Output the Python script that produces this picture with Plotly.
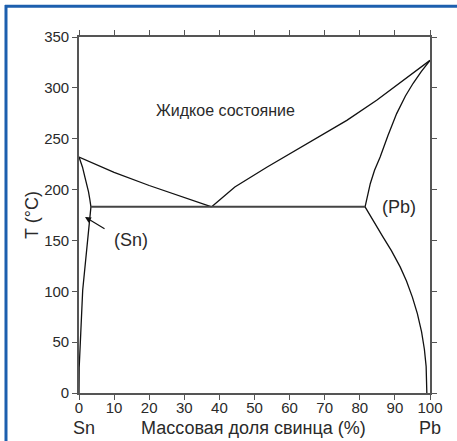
import plotly.graph_objects as go

# Phase-diagram curves (x: mass % Pb, T: °C)
liq_left_x = [0, 10, 20, 30, 37.8]
liq_left_T = [232, 217, 204, 192, 183]
liq_right_x = [37.8, 44.4, 53.5, 66.8, 76.3, 84.8, 100]
liq_right_T = [183, 202.6, 222, 248.4, 268, 287.8, 327]
pb_solidus_x = [81.5, 82.2, 83, 84.2, 85.8, 88, 90.5, 93, 95.2, 97.5, 100]
pb_solidus_T = [183, 195, 206, 219, 232, 253, 274.7, 292, 304.5, 316, 327]
pb_solvus_x = [81.5, 84, 86.5, 89, 91.5, 93.3, 95, 96.4, 97.6, 98.4, 98.9, 99.1]
pb_solvus_T = [183, 168, 154, 140, 124, 110, 94, 78, 60, 43, 26, 0]
sn_solidus_x = [0, 1.0, 1.7, 2.2, 2.7, 3.1, 3.4]
sn_solidus_T = [232, 222, 212, 206, 198, 190, 183]
sn_solvus_x = [3.4, 2.85, 2.2, 1.7, 1.05, 0.5, 0.05, 0]
sn_solvus_T = [183, 165, 143, 124, 101, 59, 25, 0]
eutectic_x = [3.4, 81.5]
eutectic_T = [183, 183]

x_ticks = [0, 10, 20, 30, 40, 50, 60, 70, 80, 90, 100]
y_ticks = [0, 50, 100, 150, 200, 250, 300, 350]

FONT = "Liberation Sans, Arial, sans-serif"
TXT = "#2a2a2a"

fig = go.Figure()
for xs, ys in [(liq_left_x, liq_left_T), (liq_right_x, liq_right_T),
               (pb_solidus_x, pb_solidus_T), (pb_solvus_x, pb_solvus_T),
               (sn_solidus_x, sn_solidus_T), (sn_solvus_x, sn_solvus_T)]:
    fig.add_trace(go.Scatter(x=xs, y=ys, mode="lines", line=dict(color="#111", width=1.3),
                             hoverinfo="skip", showlegend=False))
fig.add_trace(go.Scatter(x=eutectic_x, y=eutectic_T, mode="lines",
                         line=dict(color="#444", width=2), hoverinfo="skip", showlegend=False))

axis_common = dict(showgrid=False, zeroline=False, showline=True, linecolor="#555", linewidth=1.6,
                   ticks="outside", ticklen=5, tickwidth=1.3, tickcolor="#555", mirror="ticks",
                   tickfont=dict(family=FONT, size=15, color=TXT))
fig.update_xaxes(range=[0, 100], tickvals=x_ticks, ticklabelstandoff=-5, **axis_common)
fig.update_yaxes(range=[0, 350], tickvals=y_ticks, **axis_common)

ann = [
    dict(x=41.6, y=278, text="Жидкое состояние", showarrow=False, font=dict(family=FONT, size=16, color=TXT)),
    dict(x=14.8, y=150, text="(Sn)", showarrow=False, font=dict(family=FONT, size=18, color=TXT)),
    dict(x=91.2, y=183, text="(Pb)", showarrow=False, font=dict(family=FONT, size=18, color=TXT)),
    dict(x=1.7, y=173, ax=7.7, ay=160.7, axref="x", ayref="y", text="", showarrow=True,
         arrowhead=2, arrowsize=1, arrowwidth=1.2, arrowcolor="#111"),
    dict(x=0.014, y=-0.098, xref="paper", yref="paper", text="Sn", showarrow=False,
         xanchor="center", yanchor="middle", font=dict(family=FONT, size=18, color=TXT)),
    dict(x=1.0, y=-0.098, xref="paper", yref="paper", text="Pb", showarrow=False,
         xanchor="center", yanchor="middle", font=dict(family=FONT, size=18, color=TXT)),
    dict(x=0.496, y=-0.098, xref="paper", yref="paper", text="Массовая доля свинца (%)", showarrow=False,
         xanchor="center", yanchor="middle", font=dict(family=FONT, size=18, color=TXT)),
    dict(x=-0.134, y=0.5, xref="paper", yref="paper", text="T (°C)", textangle=-90, showarrow=False,
         xanchor="center", yanchor="middle", font=dict(family=FONT, size=18, color=TXT)),
]

shapes = [
    dict(type="line", xref="paper", yref="paper", x0=-0.2108, x1=1.08, y0=1.0862, y1=1.0862,
         line=dict(color="#1c5fae", width=3)),
    dict(type="line", xref="paper", yref="paper", x0=-0.208, x1=-0.208, y0=1.09, y1=-0.14,
         line=dict(color="#1c5fae", width=3)),
]

fig.update_layout(width=457, height=441, margin=dict(l=79, r=27, t=37, b=48),
                  plot_bgcolor="white", paper_bgcolor="white",
                  annotations=ann, shapes=shapes)
fig.write_html("out.html", config={"displayModeBar": False},
               post_script="document.body.style.margin='0';")
